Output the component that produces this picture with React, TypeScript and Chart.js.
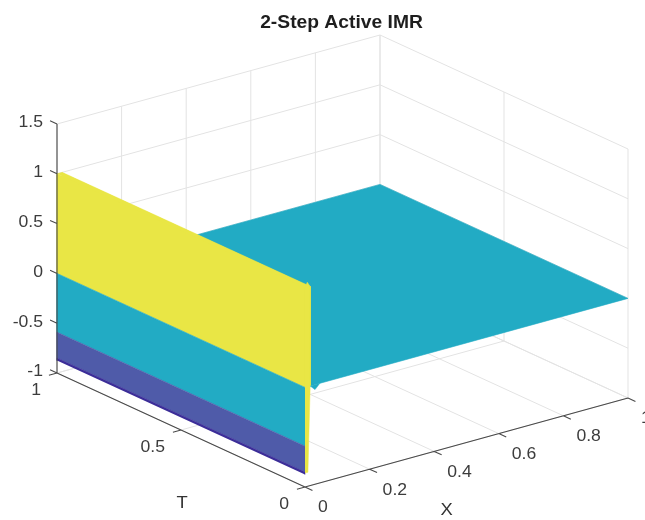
import React, { useEffect, useRef } from 'react';
import { Chart, registerables } from 'chart.js';

Chart.register(...registerables);

// ---------------- data ----------------
const chartTitle = '2-Step Active IMR';
const xTicks = [0, 0.2, 0.4, 0.6, 0.8, 1];
const xTickLabels = ['0', '0.2', '0.4', '0.6', '0.8', '1'];
const tTicks = [0, 0.5, 1];
const tTickLabels = ['0', '0.5', '1'];
const zTicks = [-1, -0.5, 0, 0.5, 1, 1.5];
const zTickLabels = ['-1', '-0.5', '0', '0.5', '1', '1.5'];
const xLabel = 'X';
const tLabel = 'T';

// solution profile u(X) along X, the same for every T in [0, 1]
const profileX = [0, 0, 0, 0, 0, 0.016, 0.016, 1];
const profileZ = [-0.875, -0.85, -0.59, 0, 1, 1, 0, 0];

// first time row (T = 0) edge of the step, and the small dip after it
const frontX = [0, 0.007, 0.016, 0.016, 0.009, 0];
const frontZ = [1, 1.05, 1, 0, -0.86, -0.86];
const dipX = [0.016, 0.031, 0.046];
const dipZ = [0, -0.05, 0];

// ---------------- view / style ----------------
const W = 645;
const H = 520;
const Z_MIN = -1;
const Z_MAX = 1.5;
const VIEW = {
  ox: 305, oy: 487, // (X=0, T=0, Z=-1)
  exx: 323, exy: -89, // per unit X
  etx: -248, ety: -114, // per unit T
  ezx: 0, ezy: -99.6, // per unit Z
};
const proj = (X: number, T: number, Z: number) => ({
  x: VIEW.ox + X * VIEW.exx + T * VIEW.etx + (Z - Z_MIN) * VIEW.ezx,
  y: VIEW.oy + X * VIEW.exy + T * VIEW.ety + (Z - Z_MIN) * VIEW.ezy,
});

const colormap = [
  { upTo: -0.8, color: '#3b2d98' },
  { upTo: -0.3, color: '#4f5ba9' },
  { upTo: 0.5, color: '#22abc4' },
  { upTo: Infinity, color: '#e9e645' },
];
const colorOf = (z: number) => colormap.find((c) => z <= c.upTo)!.color;

const GRID_COLOR = '#e3e3e3';
const AXIS_COLOR = '#4a4a4a';
const TEXT_COLOR = '#3c3c3c';
const FONT = '"Liberation Sans", Arial, Helvetica, sans-serif';

type P3 = [number, number, number];

function segmentsData(segs: P3[][]) {
  const out: { x: number; y: number }[] = [];
  segs.forEach((s, i) => {
    if (i > 0) out.push({ x: NaN, y: NaN });
    s.forEach(([X, T, Z]) => out.push(proj(X, T, Z)));
  });
  return out;
}

function polyData(pts: P3[]) {
  return pts.map(([X, T, Z]) => proj(X, T, Z));
}

const textPlugin = {
  id: 'axisText',
  afterDatasetsDraw(chart: any) {
    const { ctx } = chart;
    const sx = chart.scales.x;
    const sy = chart.scales.y;
    const at = (X: number, T: number, Z: number) => {
      const p = proj(X, T, Z);
      return { x: sx.getPixelForValue(p.x), y: sy.getPixelForValue(p.y) };
    };
    const txt = (
      s: string,
      x: number,
      y: number,
      align: CanvasTextAlign,
      font: string,
      color: string,
      stretch: number,
      baseline: CanvasTextBaseline = 'middle'
    ) => {
      ctx.save();
      ctx.font = font;
      ctx.fillStyle = color;
      ctx.textAlign = align;
      ctx.textBaseline = baseline;
      ctx.translate(x, y);
      ctx.scale(stretch, 1);
      ctx.fillText(s, 0, 0);
      ctx.restore();
    };
    const tickFont = `16px ${FONT}`;
    zTicks.forEach((z, i) => {
      const p = at(0, 1, z);
      txt(zTickLabels[i], p.x - 14, p.y - 1, 'right', tickFont, TEXT_COLOR, 1.1);
    });
    tTicks.forEach((t, i) => {
      const p = at(0, t, Z_MIN);
      txt(tTickLabels[i], p.x - 16, p.y + 18, 'right', tickFont, TEXT_COLOR, 1.1);
    });
    xTicks.forEach((xv, i) => {
      const p = at(xv, 0, Z_MIN);
      txt(xTickLabels[i], p.x + 13, p.y + 21, 'left', tickFont, TEXT_COLOR, 1.1);
    });
    const labFont = `17px ${FONT}`;
    const pt = at(0, 0.5, Z_MIN);
    txt(tLabel, pt.x + 1, pt.y + 73, 'center', labFont, '#333333', 1.08);
    const px = at(0.5, 0, Z_MIN);
    txt(xLabel, px.x - 20, px.y + 68, 'center', labFont, '#333333', 1.08);
    txt(chartTitle, 341.5, 28, 'center', `bold 18px ${FONT}`, '#1e1e1e', 1.07, 'alphabetic');
  },
};

export default function App() {
  const ref = useRef<HTMLCanvasElement | null>(null);

  useEffect(() => {
    if (!ref.current) return;

    // grid on back walls and floor
    const grid: P3[][] = [];
    xTicks.forEach((X) => {
      grid.push([[X, 1, Z_MIN], [X, 1, Z_MAX]]);
      grid.push([[X, 0, Z_MIN], [X, 1, Z_MIN]]);
    });
    tTicks.forEach((T) => {
      grid.push([[1, T, Z_MIN], [1, T, Z_MAX]]);
      grid.push([[0, T, Z_MIN], [1, T, Z_MIN]]);
    });
    zTicks.forEach((Z) => {
      grid.push([[0, 1, Z], [1, 1, Z]]);
      grid.push([[1, 0, Z], [1, 1, Z]]);
    });

    // axis lines and ticks
    const axes: P3[][] = [
      [[0, 1, Z_MIN], [0, 1, Z_MAX]],
      [[0, 0, Z_MIN], [0, 1, Z_MIN]],
      [[0, 0, Z_MIN], [1, 0, Z_MIN]],
    ];
    xTicks.forEach((X) => axes.push([[X, 0, Z_MIN], [X, -0.03, Z_MIN]]));
    tTicks.forEach((T) => axes.push([[0, T, Z_MIN], [-0.025, T, Z_MIN]]));
    zTicks.forEach((Z) => axes.push([[0, 1, Z], [0, 1.028, Z]]));

    const layers: any[] = [];
    layers.push({
      data: segmentsData(grid),
      borderColor: GRID_COLOR,
      borderWidth: 1,
      fill: false,
    });

    // surface faces (back to front)
    for (let i = profileX.length - 2; i >= 0; i--) {
      const pts: P3[] = [
        [profileX[i], 0, profileZ[i]],
        [profileX[i + 1], 0, profileZ[i + 1]],
        [profileX[i + 1], 1, profileZ[i + 1]],
        [profileX[i], 1, profileZ[i]],
      ];
      const c = colorOf(Math.max(profileZ[i], profileZ[i + 1]));
      layers.push({
        data: polyData(pts),
        borderColor: c,
        backgroundColor: c,
        borderWidth: 0.6,
        fill: 'shape',
      });
    }
    const frontPts: P3[] = frontX.map((x, i) => [x, 0, frontZ[i]] as P3);
    const fc = colorOf(Math.max(...frontZ));
    layers.push({ data: polyData(frontPts), borderColor: fc, backgroundColor: fc, borderWidth: 0.5, fill: 'shape' });
    const dipPts: P3[] = dipX.map((x, i) => [x, 0, dipZ[i]] as P3);
    const dc = colorOf(Math.max(...dipZ));
    layers.push({ data: polyData(dipPts), borderColor: dc, backgroundColor: dc, borderWidth: 0.5, fill: 'shape' });

    layers.push({
      data: segmentsData(axes),
      borderColor: AXIS_COLOR,
      borderWidth: 1.1,
      fill: false,
    });

    const datasets = layers.map((l, i) => ({
      ...l,
      showLine: true,
      pointRadius: 0,
      pointHoverRadius: 0,
      tension: 0,
      spanGaps: false,
      order: layers.length - i,
    }));

    const chart = new Chart(ref.current, {
      type: 'scatter',
      data: { datasets },
      options: {
        animation: false,
        responsive: false,
        events: [],
        layout: { padding: 0 },
        plugins: {
          legend: { display: false },
          tooltip: { enabled: false },
          title: { display: false },
        },
        scales: {
          x: { type: 'linear', display: false, min: 0, max: W },
          y: { type: 'linear', display: false, min: 0, max: H, reverse: true },
        },
      },
      plugins: [textPlugin],
    });
    return () => chart.destroy();
  }, []);

  return (
    <div style={{ position: 'fixed', left: 0, top: 0, width: W, height: H, background: '#ffffff' }}>
      <canvas ref={ref} width={W} height={H} style={{ width: W, height: H, display: 'block' }} />
    </div>
  );
}
